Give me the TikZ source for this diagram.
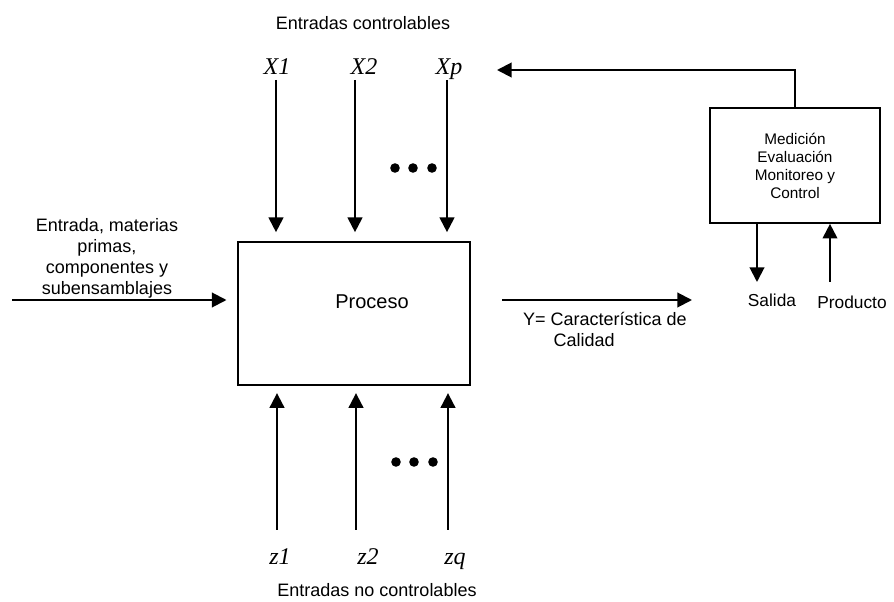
\documentclass[tikz,border=0pt]{standalone}
\usepackage{fontspec}
\setmainfont{Liberation Sans}
\newfontfamily\varfont{Liberation Serif}
\usetikzlibrary{arrows.meta}
\begin{document}
\begin{tikzpicture}[x=0.75pt,y=-0.75pt,>={Triangle[length=11pt,width=11pt]},
  line width=1.5pt,
  box/.style={draw,rectangle,inner sep=0pt},
  lbl/.style={font=\fontsize{13.5}{15.75}\selectfont,align=center,inner sep=0pt},
  var/.style={font=\varfont\itshape\fontsize{18}{20}\selectfont,anchor=base,inner sep=0pt}]
  \useasboundingbox (0,0) rectangle (894,602);
  \node[box,minimum width=174pt,minimum height=107pt] (proc) at (353.5,313.5) {};
  \node[lbl,font=\fontsize{15}{18}\selectfont] (proctxt) at (372,302) {Proceso};
  \node[box,minimum width=127.5pt,minimum height=86pt,align=center,
    font=\fontsize{11.5}{13.5}\selectfont] (med) at (795,165.5)
    {Medición\\Evaluación\\Monitoreo y\\Control};
  \node[lbl] (ctrl) at (363,23) {Entradas controlables};
  \node[lbl] (noctrl) at (377,590) {Entradas no controlables};
  \node[lbl] (ent) at (107,258) {Entrada, materias\\primas,\\componentes y\\subensamblajes};
  \node[lbl,anchor=west,align=left] (ycal) at (522,329) {Y= Característica de\\\hspace*{23pt}Calidad};
  \node[lbl,font=\fontsize{13}{15}\selectfont] (sal) at (772,300) {Salida};
  \node[lbl,font=\fontsize{13}{15}\selectfont] (prod) at (852,302) {Producto};
  \node[var] (x1) at (277,75) {X1};
  \node[var] (x2) at (364,75) {X2};
  \node[var] (xp) at (449,75) {Xp};
  \node[var] (z1) at (280,565) {z1};
  \node[var] (z2) at (368,565) {z2};
  \node[var] (zq) at (455,565) {zq};
  \foreach \n/\x in {1/276,2/355,3/447}{
    \coordinate (t\n) at (\x,80);
    \coordinate (b\n) at (\x+1,530);
    \draw[->,shorten >=6.75pt] (t\n) -- (t\n |- proc.north);
    \draw[->,shorten >=5.5pt] (b\n) -- (b\n |- proc.south);
  }
  \foreach \x in {395,413,432}{
    \fill (\x,168) circle (3.6pt);
    \fill (\x+1,462) circle (3.6pt);
  }
  \coordinate (ein) at (12,300);
  \coordinate (yo) at (502,300);
  \coordinate (yi) at (692,300);
  \coordinate (fb) at (497,70);
  \coordinate (s) at (757,282);
  \coordinate (p) at (830,282);
  \draw[->,shorten >=7.5pt] (ein) -- (proc.west |- ein);
  \draw[->] (yo) -- (yi);
  \draw[->] (med.north) |- (fb);
  \draw[->] (s |- med.south) -- (s);
  \draw[->] (p) -- (p |- med.south);
\end{tikzpicture}
\end{document}
